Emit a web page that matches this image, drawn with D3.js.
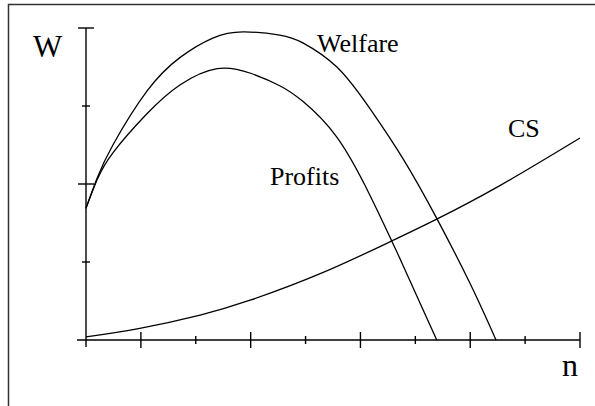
<!DOCTYPE html>
<html lang="en">
<head>
<meta charset="UTF-8">
<title>Welfare, Profits and CS</title>
<script src="https://d3js.org/d3.v7.min.js"></script>
<style>
    body { margin: 0; background: #fff; }
    .curve { fill: none; stroke: #000; stroke-width: 1.3px; }
    .axis line { stroke: #000; stroke-width: 1.4px; }
    .lbl { font-family: "Liberation Serif", "Times New Roman", serif; fill: #000; }
</style>
</head>
<body>
<div id="chart"></div>
<script>
    // values (n and W in tick units)
    var welfareN = [0, 0.2, 0.49, 1.11, 1.71, 2.31, 2.86, 3.53, 3.95, 4.57, 5.17, 5.78, 6.39, 7.0, 7.47];
    var welfareV = [1.69, 2.07, 2.5, 3.19, 3.62, 3.87, 3.95, 3.91, 3.81, 3.5, 2.97, 2.32, 1.56, 0.72, 0];

    var profitN = [0, 0.2, 0.49, 1.11, 1.71, 2.39, 3.0, 3.53, 3.95, 4.57, 5.17, 5.57, 5.78, 6.39];
    var profitV = [1.69, 2.05, 2.4, 2.9, 3.27, 3.48, 3.42, 3.26, 3.06, 2.6, 1.86, 1.27, 0.95, 0];

    var csN = [0, 0.98, 2.08, 2.99, 4.3, 5.57, 6.39, 7.54, 9];
    var csV = [0.04, 0.15, 0.32, 0.51, 0.86, 1.27, 1.55, 1.98, 2.59];

    var xTicks = [1, 2, 3, 4, 5, 6, 7, 8, 9];
    var yTicks = [1, 2, 3, 4];

    var width = 595, height = 406;

    var svg = d3.select("#chart").append("svg")
        .attr("width", width)
        .attr("height", height);

    // frame, only left and top edges fall inside the picture
    svg.append("rect")
        .attr("x", 8.5).attr("y", 4.5)
        .attr("width", 700).attr("height", 500)
        .attr("fill", "none")
        .attr("stroke", "#333")
        .attr("stroke-width", 1.5);

    var x = d3.scaleLinear().domain([0, 9]).range([86, 580]);
    var y = d3.scaleLinear().domain([0, 4]).range([340, 28]);

    var axis = svg.append("g").attr("class", "axis");

    axis.append("line")
        .attr("x1", x(0) - 9).attr("x2", x(9))
        .attr("y1", y(0)).attr("y2", y(0));
    axis.append("line")
        .attr("x1", x(0)).attr("x2", x(0))
        .attr("y1", y(4)).attr("y2", y(0) + 7);

    axis.selectAll(".xt")
        .data(xTicks)
        .enter().append("line")
            .attr("class", "xt")
            .attr("x1", d => x(d)).attr("x2", d => x(d))
            .attr("y1", d => y(0) - (d % 2 ? 8 : 4))
            .attr("y2", d => y(0) + (d % 2 ? 8 : 4));

    axis.selectAll(".yt")
        .data(yTicks)
        .enter().append("line")
            .attr("class", "yt")
            .attr("y1", d => y(d)).attr("y2", d => y(d))
            .attr("x1", d => x(0) - (d % 2 ? 4 : 8))
            .attr("x2", d => x(0) + (d % 2 ? 4 : 8));

    var line = d3.line()
        .x(d => x(d[0]))
        .y(d => y(d[1]))
        .curve(d3.curveNatural);

    function pairs(ns, vs) {
        return ns.map((n, i) => [n, vs[i]]);
    }

    svg.append("path").attr("class", "curve").attr("d", line(pairs(welfareN, welfareV)));
    svg.append("path").attr("class", "curve").attr("d", line(pairs(profitN, profitV)));
    svg.append("path").attr("class", "curve").attr("d", line(pairs(csN, csV)));

    var labels = [
        {text: "W", x: 33, y: 57, size: 31},
        {text: "Welfare", x: 317, y: 52, size: 26},
        {text: "Profits", x: 270, y: 185, size: 26},
        {text: "CS", x: 508, y: 137, size: 26},
        {text: "n", x: 562, y: 376, size: 32}
    ];

    svg.selectAll(".lbl")
        .data(labels)
        .enter().append("text")
            .attr("class", "lbl")
            .attr("x", d => d.x)
            .attr("y", d => d.y)
            .style("font-size", d => d.size + "px")
            .text(d => d.text);
</script>
</body>
</html>
